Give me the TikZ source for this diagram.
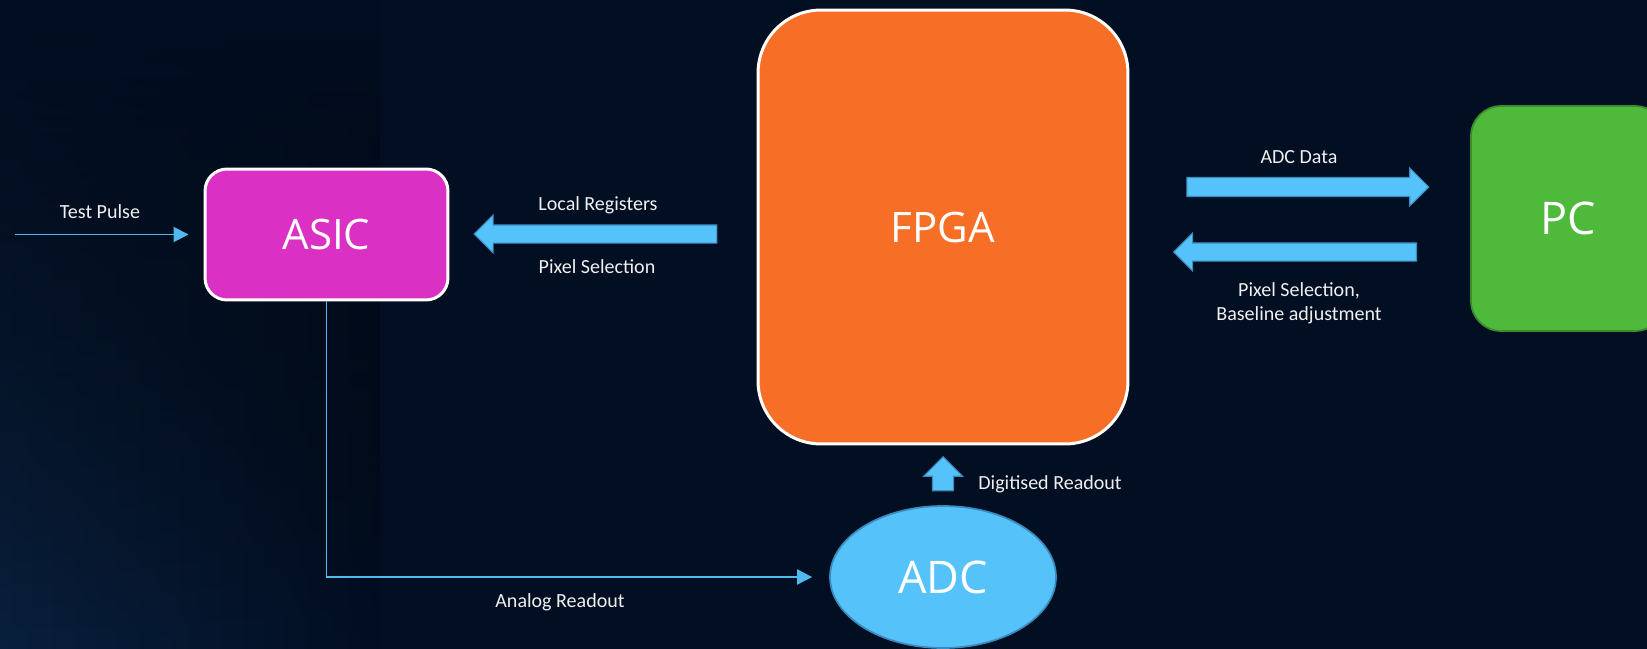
\documentclass[tikz,border=0pt]{standalone}
\usepackage{fontspec}
\setmainfont{Carlito}
\newfontfamily\boxfont{Open Sans}
\usetikzlibrary{arrows.meta,shapes.geometric,shapes.arrows,fadings}

\definecolor{bgnavy}{RGB}{2,14,34}
\definecolor{bgglow}{RGB}{9,32,62}
\definecolor{asicpink}{RGB}{218,48,196}
\definecolor{fpgaorange}{RGB}{247,111,39}
\definecolor{pcgreen}{RGB}{78,185,58}
\definecolor{pcedge}{RGB}{58,140,45}
\definecolor{adcblue}{RGB}{85,195,250}
\definecolor{adcedge}{RGB}{58,140,190}
\definecolor{linkblue}{RGB}{80,185,240}
\definecolor{labelwhite}{RGB}{240,240,240}

\begin{document}
\begin{tikzpicture}[
x=0.02cm, y=-0.02cm,
font=\fontsize{11.4}{13.7}\selectfont,
block/.style={rectangle, draw=white, line width=1.7pt, text=white, font=\boxfont\fontsize{23.9}{28}\selectfont},
lbl/.style={text=labelwhite, inner sep=0pt, align=center},
thinarrow/.style={draw=linkblue, line width=1.1pt, -{Triangle[length=0.3cm,width=0.3cm]}},
fatarrow/.style={single arrow, draw=adcedge, fill=adcblue, line width=0.6pt, inner xsep=0pt, inner ysep=0.17cm, single arrow head extend=0.2cm}
]
    % Background
    \useasboundingbox (0,0) rectangle (1647,649);
    \clip (0,0) rectangle (1647,649);
    \fill[bgnavy] (0,0) rectangle (1647,649);
    \fill[left color=bgglow, right color=bgnavy, path fading=north] (0,0) rectangle (380,649);

    % Blocks
    \node[block, fill=asicpink, rounded corners=0.44cm, minimum width=4.86cm, minimum height=2.62cm] (asic) at (326.5,234.5) {ASIC};
    \node[block, fill=fpgaorange, rounded corners=1.26cm, minimum width=7.4cm, minimum height=8.68cm] (fpga) at (943,227) {FPGA};
    \node[block, fill=pcgreen, draw=pcedge, line width=1pt, rounded corners=0.6cm, minimum width=3.88cm, minimum height=4.5cm, font=\boxfont\fontsize{25.6}{30}\selectfont] (pc) at (1568,218.5) {PC};
    \node[block, ellipse, fill=adcblue, draw=adcedge, line width=1pt, minimum width=4.52cm, minimum height=2.84cm, font=\boxfont\fontsize{25.6}{30}\selectfont] (adc) at (943,577) {ADC};

    % Fat arrows
    \node[fatarrow, rotate=180, minimum height=4.86cm] (regs) at (600,234) {};
    \node[fatarrow, inner ysep=0.18cm, single arrow head extend=0.19cm, minimum height=4.84cm] (adcdata) at (1303,187) {};
    \node[fatarrow, rotate=180, minimum height=4.86cm] (pixsel) at (1299.5,252) {};
    \node[fatarrow, rotate=90, minimum height=0.68cm, inner ysep=0.2cm, single arrow head extend=0.18cm] (digi) at (943,479) {};

    % Thin arrows
    \coordinate (tpin) at (15,234.5);
    \draw[thinarrow, shorten >=0.3cm] (tpin) -- (asic.west);
    \draw[thinarrow, shorten >=0.34cm] (asic.south) |- (adc.west);

    % Labels
    \node[lbl] (tplabel) at (100,212) {Test Pulse};
    \node[lbl] (reglabel) at (598,205) {Local Registers};
    \node[lbl] (sellabel) at (597,267) {Pixel Selection};
    \node[lbl] (datalabel) at (1299,157) {ADC Data};
    \node[lbl] (baselabel) at (1299,303) {Pixel Selection,\\Baseline adjustment};
    \node[lbl, anchor=west] (digilabel) at (978,484) {Digitised Readout};
    \node[lbl] (analabel) at (560,602) {Analog Readout};

\end{tikzpicture}
\end{document}
